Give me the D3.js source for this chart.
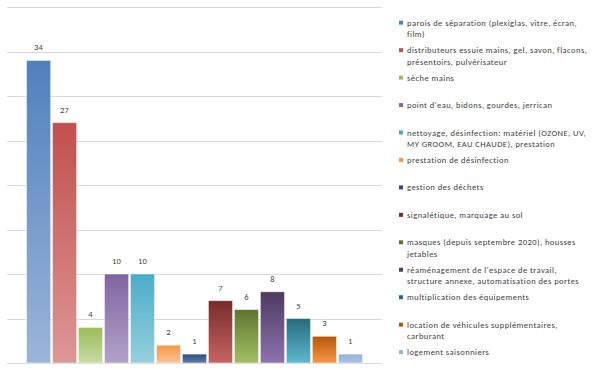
<!DOCTYPE html>
<html>
<head>
<meta charset="utf-8">
<script src="https://cdn.jsdelivr.net/npm/d3@7"></script>
<style>
  body { margin: 0; background: #fff; }
  text { font-family: Carlito, Calibri, "Liberation Sans", Arial, sans-serif; fill: #404040; }
</style>
</head>
<body>
<div id="chart"></div>
<script>
const seriesNames = [
  "parois de séparation (plexiglas, vitre, écran, film)",
  "distributeurs essuie mains, gel, savon, flacons, présentoirs, pulvérisateur",
  "sèche mains",
  "point d'eau, bidons, gourdes, jerrican",
  "nettoyage, désinfection: matériel (OZONE, UV, MY GROOM, EAU CHAUDE), prestation",
  "prestation de désinfection",
  "gestion des déchets",
  "signalétique, marquage au sol",
  "masques (depuis septembre 2020), housses jetables",
  "réaménagement de l'espace de travail, structure annexe, automatisation des portes",
  "multiplication des équipements",
  "location de véhicules supplémentaires, carburant",
  "logement saisonniers"
];
const seriesValues = [34, 27, 4, 10, 10, 2, 1, 7, 6, 8, 5, 3, 1];
const topColors = ["#4f81bd", "#c0504d", "#9bbb59", "#8064a2", "#4bacc6", "#f79646",
  "#2c4d75", "#772c2a", "#5f7530", "#4d3b62", "#276a7c", "#b65708", "#95b3d7"];
const bottomColors = ["#9bb5d9", "#dc9796", "#c9dba3", "#b2a3c9", "#97d0de", "#fcc39a",
  "#5b7fae", "#c86463", "#a1c062", "#8e74ad", "#5fb9d0", "#f79646", "#a9c2e2"];
const yTicks = [0, 5, 10, 15, 20, 25, 30, 35, 40];

class BarChart {
  constructor(width, height, svgID) {
    this.width = width;
    this.height = height;
    this.svg = d3.select(svgID).append("svg")
      .attr("width", width)
      .attr("height", height);
    this.plot = {left: 7, right: 382, top: 7, bottom: 363};
  }

  draw() {
    let svg = this.svg;
    let p = this.plot;

    let y = d3.scaleLinear().domain([0, 40]).range([p.bottom, p.top]);
    let x = d3.scaleBand()
      .domain(seriesNames)
      .range([26.5, 362.5])
      .paddingInner(0.07);

    // gradients, dark at the top
    let defs = svg.append("defs");
    seriesNames.forEach((s, i) => {
      let g = defs.append("linearGradient")
        .attr("id", "grad" + i)
        .attr("x1", 0).attr("y1", 0).attr("x2", 0).attr("y2", 1);
      g.append("stop").attr("offset", "0%").attr("stop-color", topColors[i]);
      g.append("stop").attr("offset", "100%").attr("stop-color", bottomColors[i]);
    });

    // gridlines
    svg.append("g")
      .selectAll("line")
      .data(yTicks)
      .join("line")
      .attr("x1", p.left)
      .attr("x2", p.right)
      .attr("y1", d => Math.round(y(d)) + 0.5)
      .attr("y2", d => Math.round(y(d)) + 0.5)
      .style("stroke", "#d9d9d9")
      .style("stroke-width", 1);

    // bars
    svg.append("g")
      .selectAll("rect")
      .data(seriesValues)
      .join("rect")
      .attr("x", (d, i) => x(seriesNames[i]))
      .attr("y", d => y(d))
      .attr("width", x.bandwidth())
      .attr("height", d => y(0) - y(d))
      .attr("fill", (d, i) => `url(#grad${i})`)
      .style("stroke", "#ffffff")
      .style("stroke-opacity", 0.6)
      .style("stroke-width", 0.8);

    // value labels
    svg.append("g")
      .selectAll("text")
      .data(seriesValues)
      .join("text")
      .attr("x", (d, i) => x(seriesNames[i]) + x.bandwidth() / 2)
      .attr("y", d => y(d) - 10)
      .attr("text-anchor", "middle")
      .style("font-size", "8.5px")
      .style("letter-spacing", "0.3px")
      .text(d => d);

    // legend
    let legend = svg.append("g");
    let maxW = 184;
    seriesNames.forEach((s, i) => {
      let cy = 22.7 + 27.45 * i;
      legend.append("rect")
        .attr("x", 399)
        .attr("y", cy - 2)
        .attr("width", 4)
        .attr("height", 4)
        .attr("fill", topColors[i]);
      let t = legend.append("text")
        .attr("x", 407)
        .attr("y", cy + 3)
        .style("font-size", "8.5px")
        .style("letter-spacing", "0.45px");
      // word wrap to legend width
      let words = s.split(" ");
      let line = [];
      let tspan = t.append("tspan").attr("x", 407).attr("dy", 0);
      words.forEach(w => {
        line.push(w);
        tspan.text(line.join(" "));
        if (tspan.node().getComputedTextLength() > maxW && line.length > 1) {
          line.pop();
          tspan.text(line.join(" "));
          line = [w];
          tspan = t.append("tspan").attr("x", 407).attr("dy", 11.5).text(w);
        }
      });
    });
  }
}

let chart = new BarChart(597, 370, "#chart");
chart.draw();
</script>
</body>
</html>
